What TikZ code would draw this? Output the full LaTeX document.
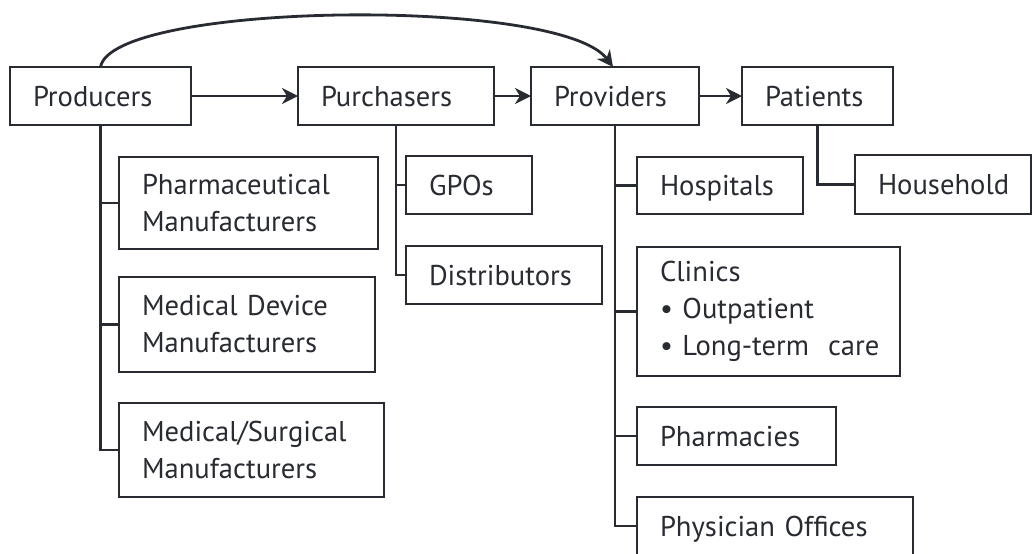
\documentclass[tikz,border=0pt]{standalone}
\usepackage{fontspec}
\setmainfont{PT Sans}
\usetikzlibrary{arrows.meta}
\definecolor{ink}{RGB}{40,43,49}
\begin{document}
\begin{tikzpicture}[x=0.5pt,y=-0.5pt,
  box/.style={draw=ink, line width=1.4pt, text=ink, anchor=north west,
    inner xsep=11.5pt, inner ysep=0pt, outer sep=0pt, align=left,
    font=\fontsize{14.3}{18.5}\selectfont},
  one/.style={text height=12.4pt, text depth=2.4pt},
  conn/.style={draw=ink, line width=1.4pt},
  arr/.style={conn, -{Stealth[length=8pt, width=8pt, inset=2.5pt]}}]
\useasboundingbox (0,0) rectangle (1032,553);
% top row
\node[box, one, minimum height=29pt, text width=67.5pt] (prod) at (10,67) {Producers};
\node[box, one, minimum height=29pt, text width=75pt] (purch) at (298,67) {Purchasers};
\node[box, one, minimum height=29pt, text width=61pt] (prov) at (531,67) {Providers};
\node[box, one, minimum height=29pt, text width=52.5pt] (pat) at (742,67) {Patients};
% producers children
\node[box, minimum height=46pt, text width=106.5pt] (pharm) at (119,157) {\mbox{Pharmaceutical}\\Manufacturers};
\node[box, minimum height=47.5pt, text width=105pt] (meddev) at (119,277) {\mbox{Medical Device}\\Manufacturers};
\node[box, minimum height=47pt, text width=109.5pt] (medsurg) at (119,403) {\mbox{Medical/Surgical}\\Manufacturers};
% purchasers children
\node[box, one, minimum height=29pt, text width=40pt] (gpo) at (406,156) {GPOs};
\node[box, one, minimum height=29pt, text width=75pt] (dist) at (406,246) {Distributors};
% providers children
\node[box, one, minimum height=28.5pt, text width=60pt] (hosp) at (637,157) {Hospitals};
\node[box, minimum height=64.5pt, text width=108.5pt] (clin) at (637,247) {Clinics\\\mbox{\textbullet\ Outpatient}\\\mbox{\textbullet\ Long-term\ \ care}};
\node[box, one, minimum height=29pt, text width=76.5pt] (pharmacies) at (637,407) {Pharmacies};
\node[box, one, minimum height=29pt, text width=115pt] (phys) at (637,497) {\mbox{Physician Offices}};
% patients child
\node[box, one, minimum height=29.5pt, text width=65pt] (house) at (855,155) {Household};
% flow arrows
\draw[arr] (prod.east) -- (purch.west);
\draw[arr] (purch.east) -- (prov.west);
\draw[arr] (prov.east) -- (pat.west);
\draw[arr] (prod.north) .. controls (112,2) and (560,-4) .. ([xshift=-1pt]prov.north);
% trees
\draw[conn] (prod.south) |- (pharm.west);
\draw[conn] (prod.south) |- (meddev.west);
\draw[conn] (prod.south) |- (medsurg.west);
\draw[conn] (purch.south) |- (gpo.west);
\draw[conn] (purch.south) |- (dist.west);
\draw[conn] (prov.south) |- (hosp.west);
\draw[conn] (prov.south) |- (clin.west);
\draw[conn] (prov.south) |- (pharmacies.west);
\draw[conn] (prov.south) |- (phys.west);
\draw[conn] (pat.south) |- (house.west);
\end{tikzpicture}
\end{document}
